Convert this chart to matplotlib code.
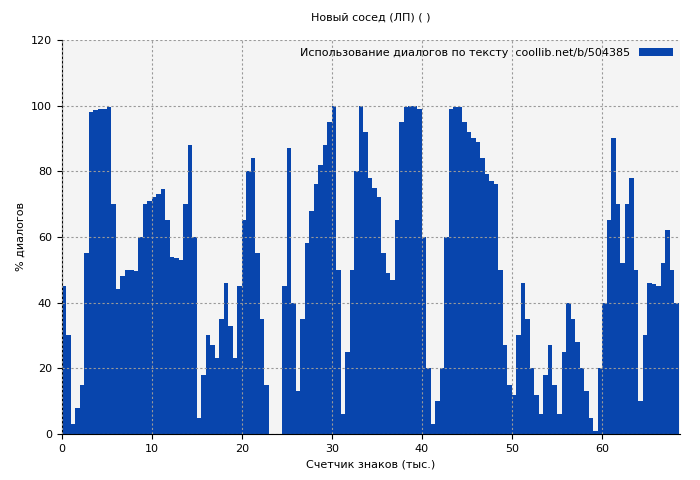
import numpy as np
import matplotlib.pyplot as plt

# Доля диалогов по ходу текста (шаг 0.5 тыс. знаков)
x_start = 0.0
x_step = 0.5
values = [45, 30, 3, 8, 15, 55, 98, 98.5, 99, 99, 99.5, 70, 44, 48, 50, 50,
          49.5, 60, 70, 71, 72, 73, 74.5, 65, 54, 53.5, 53, 70, 88, 60, 5, 18,
          30, 27, 23, 35, 46, 33, 23, 45, 65, 80, 84, 55, 35, 15, 0, 0,
          0, 45, 87, 40, 13, 35, 58, 68, 76, 82, 88, 95, 100, 50, 6, 25,
          50, 80, 100, 92, 78, 75, 72, 55, 49, 47, 65, 95, 99.5, 100, 100, 99,
          60, 20, 3, 10, 20, 60, 99, 99.5, 99.5, 95, 92, 90, 89, 84, 79, 77,
          76, 50, 27, 15, 12, 30, 46, 35, 20, 12, 6, 18, 27, 15, 6, 25,
          40, 35, 28, 20, 13, 5, 1, 20, 40, 65, 90, 70, 52, 70, 78, 50,
          10, 30, 46, 45.5, 45, 52, 62, 50, 40]
title = "Новый сосед (ЛП) ( )"
legend_label = "Использование диалогов по тексту  coollib.net/b/504385"

xs = x_start + x_step * np.arange(len(values))

plt.rcParams['font.family'] = ['DejaVu Sans']
plt.rcParams['font.size'] = 8
fig, ax = plt.subplots(figsize=(7, 4.8), dpi=100)
fig.subplots_adjust(left=0.088, right=0.972, top=0.917, bottom=0.096)
ax.set_facecolor('#f4f4f4')

ax.bar(xs, values, width=x_step, align='edge', color='#0845ad', linewidth=0,
       label=legend_label)

ax.set_xlim(0, 68.7)
ax.set_ylim(0, 120)
ax.set_xticks(range(0, 61, 10))
ax.set_yticks(range(0, 121, 20))
ax.grid(True, color='#999999', linestyle=(0, (2, 2)), linewidth=0.8)
ax.set_axisbelow(False)
for s in ['top', 'right']:
    ax.spines[s].set_visible(False)
ax.set_title(title, fontsize=8, pad=14)
ax.set_xlabel('Счетчик знаков (тыс.)')
ax.set_ylabel('% диалогов')
leg = ax.legend(loc='upper right', frameon=False, handlelength=3, fontsize=8,
                markerfirst=False, borderaxespad=0.3)
fig.savefig('out.png')
